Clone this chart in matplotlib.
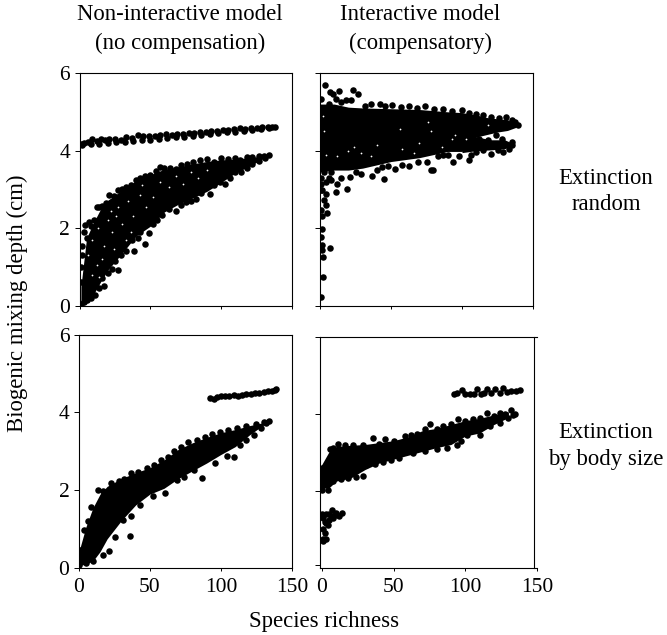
import matplotlib
matplotlib.use("Agg")
import matplotlib.pyplot as plt

W, H = 667, 635
plt.rcParams['font.family'] = ['Liberation Serif', 'DejaVu Serif']

x_ticks = [0, 50, 100, 150]
y_ticks = [0, 2, 4, 6]

# top left: non-interactive, random extinction
a_band_x = [1, 3, 6, 9, 12, 15, 18, 21, 25, 29, 33, 37, 41, 45, 49, 53, 57, 61, 65, 69, 73, 77, 81, 85, 89, 93, 97, 101, 105, 109, 113, 117, 121, 125, 129, 133, 136, 138]
a_band_y = [4.17, 4.2, 4.22, 4.3, 4.24, 4.29, 4.26, 4.31, 4.3, 4.28, 4.34, 4.33, 4.39, 4.37, 4.38, 4.38, 4.4, 4.42, 4.41, 4.44, 4.43, 4.46, 4.45, 4.49, 4.48, 4.51, 4.5, 4.54, 4.53, 4.55, 4.57, 4.56, 4.59, 4.58, 4.6, 4.6, 4.61, 4.62]
a_band_low_x = [2, 8, 14, 20, 26, 32, 38, 44, 50, 56, 62, 68, 74, 80, 86, 92, 98, 104, 110, 116, 122, 128, 134]
a_band_low_y = [4.14, 4.16, 4.18, 4.19, 4.21, 4.23, 4.24, 4.27, 4.28, 4.31, 4.32, 4.35, 4.36, 4.38, 4.41, 4.42, 4.45, 4.47, 4.49, 4.51, 4.53, 4.55, 4.58]
a_top_x = [1, 1, 2, 1.5, 3, 4, 5, 7, 8, 10, 12, 14, 16, 19, 21, 24, 27, 30, 33, 36, 40, 43, 46, 50, 54, 57, 60, 64, 68, 72, 76, 80, 85, 90, 95, 100, 105, 110, 113, 118, 122, 127, 130, 134]
a_top_y = [0.6, 1.0, 1.3, 1.55, 1.9, 2.08, 1.75, 2.15, 2.05, 2.22, 2.55, 2.55, 2.58, 2.65, 2.85, 2.82, 2.98, 3.02, 3.07, 3.12, 3.25, 3.3, 3.35, 3.38, 3.47, 3.57, 3.55, 3.56, 3.52, 3.62, 3.65, 3.7, 3.75, 3.77, 3.7, 3.8, 3.78, 3.8, 3.76, 3.83, 3.84, 3.86, 3.86, 3.88]
a_low_x = [1, 3, 5, 8, 11, 14, 17, 16, 20, 23, 27, 25, 29, 33, 38.5, 37, 41, 43, 46, 49, 47, 52, 55, 58, 63, 68, 72, 75, 79, 82, 86, 92, 89, 95, 99, 103, 106, 110, 114, 118, 122, 127, 131]
a_low_y = [0.05, 0.1, 0.15, 0.2, 0.28, 0.45, 0.5, 0.72, 0.85, 0.95, 0.92, 1.15, 1.3, 1.4, 1.41, 1.7, 1.75, 1.9, 1.58, 1.87, 2.1, 2.1, 2.2, 2.35, 2.5, 2.45, 2.6, 2.67, 2.7, 2.75, 2.9, 2.87, 3.05, 3.1, 3.2, 3.15, 3.3, 3.45, 3.45, 3.55, 3.65, 3.72, 3.8]
a_core_x = [1, 5, 10, 15, 20, 30, 40, 50, 60, 70, 80, 90, 100, 110, 120, 130]
a_core_top = [0.5, 1.75, 2.15, 2.5, 2.72, 2.98, 3.22, 3.38, 3.52, 3.58, 3.66, 3.72, 3.76, 3.78, 3.82, 3.86]
a_core_bot = [0.03, 0.15, 0.3, 0.62, 0.92, 1.35, 1.8, 2.05, 2.42, 2.62, 2.78, 2.95, 3.18, 3.42, 3.6, 3.8]
# pale gaps left between the dots
a_gap_x = [6, 9, 13, 17, 20, 23, 27, 12, 16, 24, 30, 34, 38, 43, 47, 36, 44, 52, 57, 63, 68, 73, 79, 84, 90, 26, 33, 9, 14, 22]
a_gap_y = [1.3, 1.7, 2.0, 1.55, 2.2, 1.9, 2.55, 1.05, 1.2, 1.45, 2.1, 2.7, 2.3, 2.85, 2.55, 1.9, 3.1, 2.8, 3.2, 3.05, 3.35, 3.15, 3.45, 3.3, 3.5, 2.3, 1.7, 0.8, 0.75, 2.45]

# top right: interactive, random extinction
b_top_x = [3.3, 7, 9, 13.4, 23, 27, 11.5, 18.5, 15, 22, 1, 6, 32, 36, 42, 46, 51, 57, 63, 68, 74, 80, 86.6, 93, 100, 105, 110, 115, 120.6, 126, 131, 135, 137, 139.5]
b_top_y = [5.68, 5.51, 5.45, 5.53, 5.55, 5.47, 5.34, 5.3, 5.25, 5.3, 5.34, 5.2, 5.15, 5.19, 5.19, 5.14, 5.17, 5.13, 5.14, 5.1, 5.14, 5.07, 5.08, 5.02, 5.04, 4.98, 4.95, 4.92, 4.87, 4.85, 4.87, 4.8, 4.74, 4.65]
b_low_x = [1, 1, 1, 4, 8, 11.5, 15, 19, 21, 25, 29, 36.8, 40, 45, 44, 48, 52.6, 58, 63, 69, 75, 79.6, 78, 83, 86.6, 90, 94, 98, 105, 106, 110, 115, 120.6, 125, 129, 133, 135, 135, 124, 128, 118, 112]
b_low_y = [3.58, 2.98, 3.3, 3.2, 3.25, 2.94, 3.3, 3.02, 3.32, 3.45, 3.41, 3.36, 3.5, 3.26, 3.58, 3.6, 3.54, 3.62, 3.6, 3.7, 3.71, 3.49, 3.5, 3.85, 3.88, 3.9, 3.71, 3.85, 3.75, 3.9, 3.97, 4.02, 3.92, 4.02, 3.97, 4.05, 4.14, 4.22, 4.4, 4.3, 4.28, 4.3]
b_left_x = [1.2, 1, 1.6, 1.6, 2, 7, 2, 1, 5, 1.4, 1, 4.5, 2.6, 4.5, 1.6, 1, 3, 6, 8, 12]
b_left_y = [1.99, 1.78, 1.56, 1.43, 1.26, 1.5, 0.75, 0.23, 2.4, 2.33, 2.46, 2.59, 2.72, 2.89, 2.98, 3.15, 3.45, 3.3, 3.45, 3.15]
b_core_x = [0, 10, 20, 30, 50, 70, 90, 100, 110, 118, 125, 132, 138]
b_core_top = [5.2, 5.2, 5.12, 5.1, 5.08, 5.06, 5.0, 4.98, 4.92, 4.85, 4.82, 4.8, 4.68]
b_core_bot = [3.45, 3.5, 3.5, 3.55, 3.72, 3.82, 3.98, 3.98, 4.35, 4.42, 4.48, 4.52, 4.6]
b_branch_x = [100, 110, 120, 130, 135]
b_branch_top = [4.2, 4.36, 4.28, 4.28, 4.2]
b_branch_bot = [3.95, 4.0, 4.02, 4.05, 4.12]
b_gap_x = [2, 3, 4, 24, 29, 40, 56, 66, 78, 93, 12, 20, 36, 58, 70, 76, 86, 95, 103, 118]
b_gap_y = [4.9, 4.5, 3.9, 4.1, 3.95, 4.15, 4.55, 3.95, 4.5, 4.3, 3.85, 4.0, 3.85, 4.05, 4.2, 4.75, 4.1, 4.4, 4.3, 4.65]

# bottom left: non-interactive, extinction by body size
c_band_x = [92.5, 95, 97, 100, 103, 106, 109, 112, 115, 118, 121, 124, 127, 130, 133, 136, 138, 139]
c_band_y = [4.38, 4.34, 4.4, 4.42, 4.43, 4.42, 4.44, 4.42, 4.46, 4.47, 4.48, 4.5, 4.5, 4.52, 4.54, 4.56, 4.58, 4.6]
c_top_x = [1, 3.7, 6.8, 9, 13.8, 17, 23, 28, 32, 37, 42, 48, 53, 58, 63, 67, 72, 77, 83, 89, 94, 99.5, 105, 111, 118, 125, 130, 134]
c_top_y = [0.47, 0.98, 1.2, 1.58, 2.01, 1.97, 2.18, 2.23, 2.3, 2.44, 2.48, 2.57, 2.65, 2.78, 2.85, 3.02, 3.1, 3.23, 3.28, 3.38, 3.45, 3.51, 3.55, 3.6, 3.65, 3.71, 3.75, 3.78]
c_low_x = [0, 5, 10, 17, 21, 25.6, 36, 22, 31, 37, 43, 52.6, 61, 69, 87, 81, 74, 96, 109, 104, 113.6, 118, 123, 128, 132]
c_low_y = [0.09, 0.12, 0.17, 0.33, 0.43, 0.8, 0.83, 1.03, 1.24, 1.33, 1.63, 1.84, 1.93, 2.27, 2.31, 2.53, 2.35, 2.7, 2.85, 2.87, 3.17, 3.3, 3.42, 3.6, 3.72]
c_core_x = [0, 5, 10, 15, 20, 30, 40, 50, 60, 70, 80, 90, 100, 110, 120, 130]
c_core_top = [0.4, 1.05, 1.55, 1.9, 2.1, 2.3, 2.45, 2.58, 2.78, 3.05, 3.22, 3.36, 3.48, 3.56, 3.66, 3.74]
c_core_bot = [0.06, 0.1, 0.18, 0.42, 0.75, 1.22, 1.62, 1.9, 2.05, 2.3, 2.5, 2.7, 2.92, 3.12, 3.42, 3.68]

# bottom right: interactive, extinction by body size
d_band_x = [92, 94, 97.4, 100, 103, 106, 108, 111, 113, 115, 118, 121, 124, 126, 129, 132, 135, 138]
d_band_y = [4.5, 4.55, 4.62, 4.52, 4.5, 4.5, 4.63, 4.52, 4.55, 4.65, 4.55, 4.65, 4.55, 4.68, 4.56, 4.58, 4.58, 4.61]
d_top_x = [0, 2, 5.4, 8, 11, 16, 21.7, 28.7, 35.7, 40, 44, 50, 58, 62, 66, 72, 75, 80, 84.6, 90, 95, 100, 105.6, 110, 115, 120, 124, 128, 131.7, 134.7]
d_top_y = [2.58, 2.62, 3.09, 3.1, 3.22, 3.18, 3.2, 3.2, 3.37, 3.22, 3.33, 3.3, 3.42, 3.45, 3.48, 3.6, 3.73, 3.6, 3.69, 3.72, 3.86, 3.8, 3.86, 3.88, 4.02, 3.95, 4.03, 4.0, 4.1, 3.99]
d_low_x = [0, 4, 7.7, 13, 18, 24, 28.7, 31, 37, 42.7, 48, 54, 63.6, 72, 80, 87, 94, 97, 101, 110, 117, 124, 130, 133.6]
d_low_y = [2.03, 2.03, 2.24, 2.3, 2.32, 2.35, 2.37, 2.67, 2.7, 2.75, 2.8, 2.84, 2.97, 3.02, 3.09, 3.12, 3.18, 3.3, 3.44, 3.44, 3.69, 3.76, 3.9, 3.97]
d_small_x = [0, 3, 7, 10, 14, 12, 8, 5, 3, 1, 1, 4, 2, 1, 3, 0.5, 6, 9, 2, 5]
d_small_y = [1.4, 1.4, 1.5, 1.42, 1.42, 1.35, 1.3, 1.25, 1.15, 1.0, 1.3, 1.1, 0.9, 0.75, 0.75, 0.7, 1.35, 1.38, 1.2, 1.4]
d_core_x = [-1.4, 5, 10, 20, 30, 40, 50, 60, 70, 80, 90, 100, 110, 120, 130]
d_core_top = [2.6, 3.02, 3.15, 3.18, 3.2, 3.25, 3.3, 3.4, 3.56, 3.62, 3.72, 3.82, 3.88, 3.97, 4.05]
d_core_bot = [2.05, 2.08, 2.25, 2.33, 2.55, 2.72, 2.82, 2.92, 3.02, 3.12, 3.2, 3.42, 3.5, 3.72, 3.9]


def add_panel(left, right, top, bottom, xlim, ylim):
    ax = fig.add_axes([left / W, 1 - bottom / H, (right - left) / W, (bottom - top) / H])
    ax.set_xlim(*xlim)
    ax.set_ylim(*ylim)
    ax.set_xticks(x_ticks)
    ax.set_yticks(y_ticks)
    ax.tick_params(axis='y', length=3.8, width=0.7, labelleft=False)
    ax.tick_params(axis='x', length=2.2, width=0.7, labelbottom=False)
    ax.tick_params(labelsize=15.5, pad=3)
    ax.tick_params(axis='x', pad=5)
    for s in ax.spines.values():
        s.set_linewidth(0.8)
    return ax


def dots(ax, x, y):
    ax.scatter(x, y, s=22, c='black', linewidths=0, zorder=3)


def specks(ax, x, y):
    ax.scatter(x, y, s=1.6, c='white', linewidths=0, zorder=4)


fig = plt.figure(figsize=(W / 100, H / 100), dpi=100)

ax1 = add_panel(79.5, 292, 73, 305.7, (0, 150), (0, 6))
ax1.tick_params(axis='y', labelleft=True)
dots(ax1, a_band_x, a_band_y)
dots(ax1, a_band_low_x, a_band_low_y)
dots(ax1, a_top_x, a_top_y)
dots(ax1, a_low_x, a_low_y)
ax1.fill_between(a_core_x, a_core_bot, a_core_top, color='black', lw=0)
specks(ax1, a_gap_x, a_gap_y)

ax2 = add_panel(320, 533, 73, 306, (0, 150), (0, 6))
dots(ax2, b_top_x, b_top_y)
dots(ax2, b_low_x, b_low_y)
dots(ax2, b_left_x, b_left_y)
ax2.fill_between(b_core_x, b_core_bot, b_core_top, color='black', lw=0)
ax2.fill_between(b_branch_x, b_branch_bot, b_branch_top, color='black', lw=0)
specks(ax2, b_gap_x, b_gap_y)

ax3 = add_panel(78.7, 292, 334.7, 568, (0, 150), (0, 6))
ax3.tick_params(labelleft=True, labelbottom=True)
dots(ax3, c_band_x, c_band_y)
dots(ax3, c_top_x, c_top_y)
dots(ax3, c_low_x, c_low_y)
ax3.fill_between(c_core_x, c_core_bot, c_core_top, color='black', lw=0)

# x ticks sit a bit off the frame here, 150 falls past the right spine
ax4 = add_panel(320, 537, 336.7, 567.7, (-1.4, 150), (0.08, 6))
ax4.set_yticks([0.08, 2, 4, 6])
ax4.tick_params(labelbottom=True)
ax4.spines['right'].set_position(('data', 148))
dots(ax4, d_band_x, d_band_y)
dots(ax4, d_top_x, d_top_y)
dots(ax4, d_low_x, d_low_y)
dots(ax4, d_small_x, d_small_y)
ax4.fill_between(d_core_x, d_core_bot, d_core_top, color='black', lw=0)

fs = 16.4
fig.text(180 / W, 1 - 14 / H, 'Non-interactive model', fontsize=fs, ha='center', va='center')
fig.text(180 / W, 1 - 43 / H, '(no compensation)', fontsize=fs, ha='center', va='center')
fig.text(420 / W, 1 - 14 / H, 'Interactive model', fontsize=fs, ha='center', va='center')
fig.text(420 / W, 1 - 43 / H, '(compensatory)', fontsize=fs, ha='center', va='center')
fig.text(606 / W, 1 - 178 / H, 'Extinction', fontsize=fs, ha='center', va='center')
fig.text(606 / W, 1 - 204 / H, 'random', fontsize=fs, ha='center', va='center')
fig.text(606 / W, 1 - 433 / H, 'Extinction', fontsize=fs, ha='center', va='center')
fig.text(606 / W, 1 - 460 / H, 'by body size', fontsize=fs, ha='center', va='center')
fig.text(17 / W, 1 - 303 / H, 'Biogenic mixing depth (cm)', fontsize=fs, rotation=90, ha='center', va='center')
fig.text(324 / W, 1 - 622 / H, 'Species richness', fontsize=fs, ha='center', va='center')

fig.savefig('out.png', dpi=100)
